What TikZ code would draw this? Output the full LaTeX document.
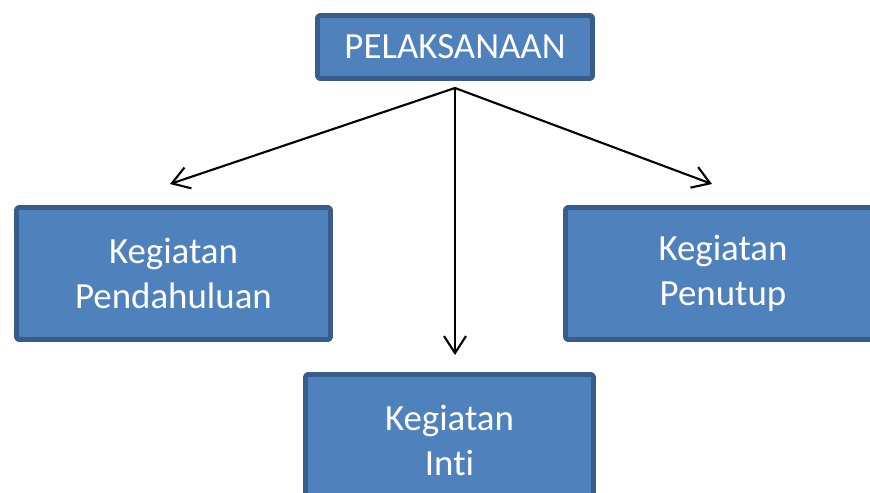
\documentclass[tikz,border=0pt]{standalone}
\usepackage{fontspec}
\setmainfont{Carlito}[Ligatures={NoCommon,NoContextual}]
\usetikzlibrary{arrows.meta}
\definecolor{boxfill}{HTML}{4F81BD}
\definecolor{boxline}{HTML}{385D8A}

\begin{document}
\begin{tikzpicture}[
  x=0.02cm,y=-0.02cm,
  font=\fontsize{21}{25.5}\selectfont,
  line cap=round,line join=round,
  block/.style={draw=boxline,fill=boxfill,line width=2.8pt,rounded corners=1.5pt,
    text=white,align=center,inner sep=0pt},
  link/.style={-{Straight Barb[length=3.4mm,width=4.4mm,line width=1.2pt]},line width=1.2pt,draw=black}
]
\useasboundingbox (0,0) rectangle (870,493);
\clip (0,0) rectangle (870,493);

% Top block and the three activity blocks
\node[block,minimum width=5.5cm,minimum height=1.26cm] (pel) at (455,47) {PELAKSANAAN};
\node[block,minimum width=6.28cm,minimum height=2.64cm] (pend) at (173.5,273.5) {Kegiatan\\Pendahuluan};
\node[block,minimum width=6.3cm,minimum height=2.64cm] (tutup) at (723,273.5) {Kegiatan\\Penutup};
\node[block,minimum width=5.76cm,minimum height=2.64cm] (inti) at (449.5,440.5) {Kegiatan\\Inti};

% Fork point below the top block and free arrow ends
\coordinate (fork) at (455,88);
\coordinate (toPend) at (170,184);
\coordinate (toInti) at (455,355);
\coordinate (toTutup) at (712,184);

\draw[link] (fork) -- (toPend);
\draw[link] (fork) -- (toInti);
\draw[link] (fork) -- (toTutup);

\end{tikzpicture}
\end{document}
